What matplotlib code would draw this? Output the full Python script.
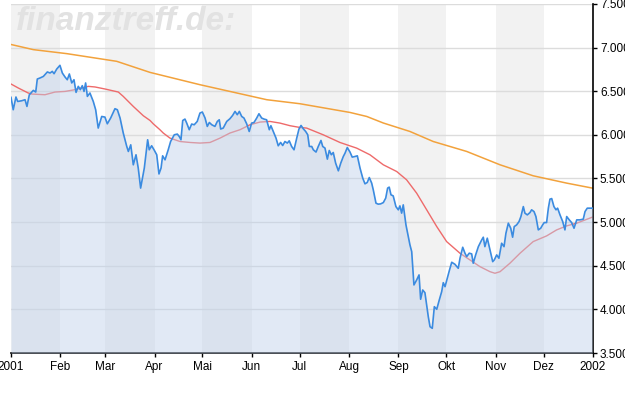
import numpy as np
import matplotlib.pyplot as plt

# days since 2001-01-01 and index values
kurs_tag = [0, 1.4, 3.1, 4.2, 6.7, 8.8, 10, 11.5, 14, 15.5, 16.5, 18.2, 20.3, 22.8, 24.5, 25.9, 27, 28.7, 30.7, 32.2,
            33.9, 35.3, 36.6, 38.1, 39.5, 40.8, 42.2, 43.5, 44.7, 45.8, 46.8, 47.9, 49.5, 51.6, 53.1, 54.7, 56.9, 58.9, 60.4, 62.5,
            65.2, 66.7, 68.4, 70.4, 72.6, 73.6, 75.1, 76.7, 78.4, 79.8, 81.3, 83.6, 85.7, 86.7, 88.2, 89.7, 91.4, 92.8, 94.1, 95.1,
            96.6, 98.6, 100.1, 102.4, 104.3, 105.5, 106.6, 107.7, 109.1, 110.2, 111.8, 113.3, 114.9, 116.8, 118.5, 120, 121.7, 123.1, 124.4, 125.9,
            127.9, 129.4, 130.6, 131.5, 133.1, 135.3, 137.3, 139, 140.5, 141.9, 143.2, 144.7, 146.1, 147.8, 149.4, 150.9, 152.4, 154.1, 155.5, 157.2,
            158.7, 160.3, 162, 163, 164.5, 166.2, 167.6, 169.1, 170.4, 171.8, 173.3, 174.5, 176, 177.5, 179.2, 180.6, 181.9, 183.3, 184.8, 186.1,
            187.1, 188.6, 189.6, 191.3, 192.7, 194.4, 195.5, 196.9, 198.4, 199.6, 200.9, 202.1, 203.6, 205.3, 206.8, 208.4, 209.5, 210.9, 212.6, 214,
            215.7, 217.2, 218.9, 220.6, 222, 223.4, 224.7, 226.2, 227.2, 228.9, 230.3, 231.8, 233.5, 235, 236.2, 237.2, 238.3, 239.7, 241.4, 242.9,
            243.9, 245, 246, 247.7, 249.2, 250.2, 251.3, 252.7, 254.4, 255.9, 256.9, 258.2, 259.6, 260.7, 261.7, 262.8, 264.2, 265.5, 267, 268.6,
            270.1, 271.1, 272.2, 273.6, 274.9, 276.4, 278.4, 280.5, 281.6, 283.3, 284.7, 285.8, 287.4, 288.9, 289.9, 291.4, 293.1, 295.2, 296.2, 297.2,
            298.7, 300.4, 302.1, 303.1, 304.6, 306, 307.7, 309.2, 310.4, 311.9, 313.4, 314.6, 315.6, 317.1, 318.6, 319.8, 321.3, 322.3, 323.8, 325.5,
            326.5, 328, 329.2, 330.7, 332.2, 333.4, 334.4, 335.9, 337, 338, 339.1, 340.5, 341.8, 342.8, 344.3, 346, 347.4, 348.5, 350.1, 351.6,
            353.1, 354.8, 356.8, 358.9, 360, 361.4, 363.1, 364.6]
kurs = [6430, 6288, 6434, 6383, 6391, 6403, 6326, 6460, 6510, 6491, 6640, 6652, 6670, 6721, 6709, 6728, 6701, 6755, 6797, 6709,
        6663, 6632, 6698, 6595, 6632, 6487, 6556, 6518, 6564, 6498, 6595, 6441, 6480, 6383, 6288, 6078, 6211, 6204, 6127, 6193,
        6300, 6288, 6193, 6021, 5867, 5810, 5886, 5657, 5772, 5619, 5390, 5619, 5944, 5829, 5875, 5829, 5772, 5552, 5619, 5760,
        5714, 5829, 5924, 6001, 6009, 5982, 5944, 6165, 6181, 6135, 6059, 6124, 6116, 6154, 6250, 6262, 6193, 6097, 6142, 6116,
        6097, 6154, 6173, 6067, 6078, 6154, 6185, 6223, 6269, 6231, 6269, 6211, 6193, 6127, 6039, 6135, 6142, 6193, 6242, 6193,
        6181, 6173, 6059, 6105, 6039, 5963, 5875, 5913, 5878, 5924, 5906, 5932, 5867, 5829, 5963, 6067, 6108, 6070, 6039, 6001,
        5867, 5867, 5829, 5803, 5867, 5936, 5867, 5849, 5722, 5821, 5772, 5798, 5676, 5588, 5676, 5752, 5791, 5855, 5803, 5745,
        5752, 5760, 5619, 5504, 5439, 5454, 5511, 5447, 5370, 5217, 5206, 5209, 5224, 5275, 5390, 5401, 5313, 5301, 5178, 5141,
        5186, 5103, 5198, 4968, 4834, 4739, 4662, 4280, 4337, 4395, 4116, 4222, 4191, 4050, 3916, 3801, 3783, 4031, 4001, 4108,
        4203, 4306, 4260, 4357, 4444, 4540, 4517, 4471, 4586, 4712, 4644, 4605, 4644, 4636, 4529, 4624, 4719, 4796, 4827, 4719,
        4816, 4681, 4547, 4567, 4624, 4586, 4758, 4719, 4873, 4988, 4930, 4827, 4949, 4968, 5006, 5064, 5178, 5103, 5083, 5110,
        5141, 5121, 5064, 4911, 4930, 4968, 4995, 4995, 5160, 5263, 5270, 5178, 5141, 5160, 5083, 5006, 4911, 5064, 5026, 4995,
        4930, 5026, 5026, 5034, 5121, 5160, 5160, 5160]

gd38_tag = [0, 4.6, 10.8, 13, 21.3, 27.6, 33.9, 40.1, 48.5, 52.7, 58.9, 67.3, 70.4, 76.7, 83, 87.2, 89.2, 93.4, 95.5, 99.7,
            106, 112.3, 118.5, 124.8, 131.1, 137.3, 143.6, 149.9, 156.2, 162.4, 168.7, 175, 181.2, 185.4, 195.8, 206.3, 216.8, 225.1,
            233.5, 241.9, 248.1, 254.4, 260.7, 267, 273.2, 281.6, 287.8, 294.1, 300.4, 303.5, 306.7, 312.9, 319.2, 327.5, 335.9, 342.2,
            348.5, 354.8, 364.6]
gd38 = [6583, 6537, 6480, 6468, 6460, 6491, 6498, 6518, 6556, 6549, 6526, 6491, 6441, 6326, 6219, 6165, 6127, 6059, 6021, 5963,
        5924, 5913, 5906, 5913, 5963, 6021, 6059, 6116, 6147, 6154, 6135, 6105, 6085, 6078, 6001, 5913, 5848, 5772,
        5657, 5580, 5485, 5332, 5141, 4949, 4777, 4643, 4567, 4490, 4432, 4414, 4432, 4529, 4643, 4777, 4842, 4911,
        4957, 4988, 5057]

gd200_tag = [0, 14, 35, 66.3, 87.2, 118.5, 160.4, 181.2, 212.6, 223.1, 233.5, 250.2, 264.8, 285.8, 306.7, 327.5, 348.5, 364.6]
gd200 = [7036, 6977, 6931, 6843, 6716, 6575, 6403, 6357, 6257, 6211, 6136, 6039, 5924, 5810, 5657, 5531, 5447, 5390]

monat_start = [0, 31, 59, 90, 120, 151, 181, 212, 243, 273, 304, 334, 365]
monat_label = ['2001', 'Feb', 'Mar', 'Apr', 'Mai', 'Jun', 'Jul', 'Aug', 'Sep', 'Okt', 'Nov', 'Dez', '2002']
y_ticks = [3500, 4000, 4500, 5000, 5500, 6000, 6500, 7000, 7500]

plt.rcParams['font.family'] = ['Liberation Sans', 'DejaVu Sans']

fig = plt.figure(figsize=(6.25, 3.96), dpi=100)
ax = fig.add_axes([11 / 625, 1 - 353 / 396, 582 / 625, 349 / 396])

# alternating month bands
for i in range(0, 12, 2):
    ax.axvspan(monat_start[i], monat_start[i + 1], color='#f2f2f2', lw=0, zorder=0)

for yv in y_ticks:
    ax.axhline(yv, color='#dcdcdc', lw=1, zorder=1)

ax.plot(gd38_tag, gd38, color='#ee6a6a', lw=1, zorder=2)
ax.plot(gd200_tag, gd200, color='#f2a23c', lw=1.1, zorder=2)
ax.fill_between(kurs_tag, kurs, 3500, color='#bed1eb', alpha=0.46, lw=0, zorder=3)
ax.plot(kurs_tag, kurs, color='#3b8be0', lw=1.2, zorder=4)

# watermark
fig.text(16 / 625, 1 - 21 / 396, 'finanztreff.de:', fontsize=24, fontstyle='italic', fontweight='bold',
         color='#e2e2e2', va='center', ha='left', zorder=5)

ax.set_xlim(0, 365)
ax.set_ylim(3500, 7500)
ax.set_xticks(monat_start)
ax.set_xticklabels(monat_label, fontsize=8.5)
ax.set_yticks(y_ticks)
ax.set_yticklabels([f'{v:,}'.replace(',', '.') for v in y_ticks], fontsize=8.5)
ax.yaxis.tick_right()
ax.tick_params(axis='both', length=3, width=1, color='black', pad=2)
ax.tick_params(axis='x', pad=3)

for s in ['left', 'top']:
    ax.spines[s].set_visible(False)
ax.spines['right'].set_linewidth(1.2)
ax.spines['bottom'].set_linewidth(1.2)

fig.savefig('out.png', dpi=100)
